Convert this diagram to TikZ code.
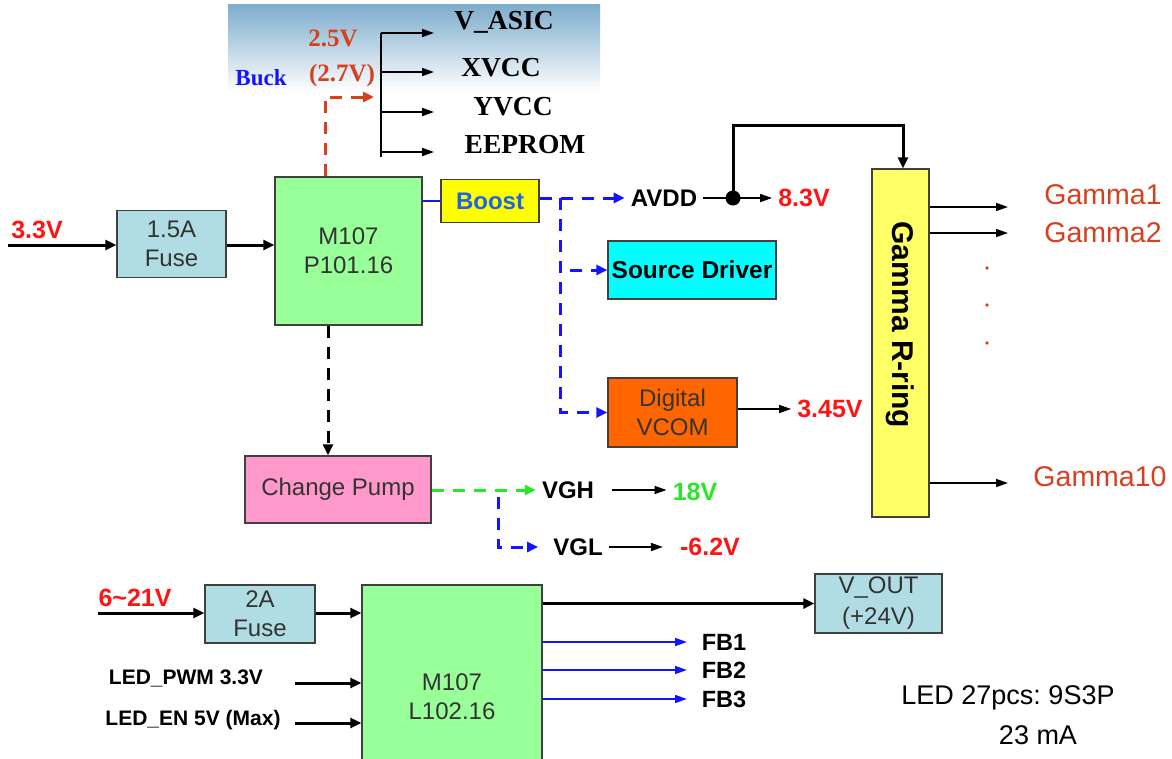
\documentclass[tikz,border=0pt]{standalone}
\usepackage{fontspec}
\setmainfont{Liberation Sans}
\newfontfamily\timesfont{Liberation Serif}
\usetikzlibrary{arrows.meta}

\definecolor{fusecol}{RGB}{176,221,228}
\definecolor{icgreen}{RGB}{153,255,153}
\definecolor{boostyel}{RGB}{255,255,0}
\definecolor{srccyan}{RGB}{0,255,255}
\definecolor{vcomorg}{RGB}{255,102,0}
\definecolor{gammayel}{RGB}{255,255,102}
\definecolor{pumppink}{RGB}{255,153,204}
\definecolor{vred}{RGB}{255,20,20}
\definecolor{gred}{RGB}{214,64,30}
\definecolor{lblblue}{RGB}{20,20,255}
\definecolor{boostblue}{RGB}{30,100,230}
\definecolor{vgreen}{RGB}{40,230,40}
\definecolor{topblue}{RGB}{125,172,205}

\begin{document}
\begin{tikzpicture}[x=1pt,y=-1pt,
  box/.style={draw=black!75, line width=1.3pt, align=center, inner sep=0pt,
    text=black!80, font=\fontsize{24}{29}\selectfont},
  lbl/.style={inner xsep=6pt, inner ysep=0pt, font=\bfseries\fontsize{24}{26}\selectfont},
  volt/.style={inner xsep=6pt, inner ysep=0pt, text=vred, font=\bfseries\fontsize{25}{27}\selectfont},
  rail/.style={inner sep=0pt, font=\timesfont\bfseries\fontsize{27.5}{29}\selectfont},
  gam/.style={inner sep=0pt, text=gred, font=\fontsize{28.5}{30}\selectfont},
  bigarrow/.style={line width=3pt, -{Triangle[length=11pt,width=10pt]}},
  smallarrow/.style={line width=1.6pt, -{Triangle[length=12pt,width=8pt]}},
  dashln/.style={line width=3pt, dash pattern=on 12pt off 9pt, -{Triangle[length=11pt,width=10pt]}}]
\useasboundingbox (0,0) rectangle (1172,758);
\clip (0,0) rectangle (1172,758);
\fill[white] (0,0) rectangle (1172,758);
\shade[top color=topblue, bottom color=white] (228,4) rectangle (600,92);

% blocks
\node[box, fill=fusecol, minimum width=109, minimum height=67] (fuseA) at (171.5,244) {1.5A\\Fuse};
\node[box, fill=icgreen, minimum width=147, minimum height=148] (pmic) at (348.5,251) {M107\\P101.16};
\node[box, fill=boostyel, minimum width=98, minimum height=43, text=boostblue,
  font=\bfseries\fontsize{24}{26}\selectfont] (boost) at (490,201) {Boost};
\node[box, fill=srccyan, minimum width=168, minimum height=58, text=black,
  font=\bfseries\fontsize{24.5}{26}\selectfont] (srcdrv) at (692,270) {Source Driver};
\node[box, fill=vcomorg, minimum width=129, minimum height=69] (vcom) at (672.5,412.5) {Digital\\VCOM};
\node[box, fill=gammayel, minimum width=57, minimum height=348, text=black,
  font=\bfseries\fontsize{30}{32}\selectfont] (gamma) at (900.5,343) {\rotatebox{-90}{Gamma R-ring\hspace*{36pt}}};
\node[box, fill=pumppink, minimum width=186, minimum height=67] (pump) at (338,489.5) {Change Pump};
\node[box, fill=fusecol, minimum width=110, minimum height=58] (fuseB) at (260,614) {2A\\Fuse};
\node[box, fill=icgreen, minimum width=180, minimum height=224] (ledic) at (452,697) {M107\\L102.16};
\node[box, fill=fusecol, minimum width=127, minimum height=59, font=\fontsize{24}{31}\selectfont] (vout) at (878.5,603.5) {V\_OUT\\(+24V)};

% 3.3V input
\node[volt] (in33) at (37,230) {3.3V};
\coordinate (src33) at (8,245);
\draw[bigarrow] (src33) -- (src33 -| fuseA.west);
\draw[bigarrow] (src33 -| fuseA.east) -- (src33 -| pmic.west);

% buck rail
\node[inner sep=0pt, text=lblblue, font=\timesfont\bfseries\fontsize{23}{26}\selectfont] (buck) at (261,78) {Buck};
\node[inner sep=0pt, text=gred, font=\timesfont\bfseries\fontsize{25}{28}\selectfont] (bv1) at (333,38) {2.5V};
\node[inner sep=0pt, text=gred, font=\timesfont\bfseries\fontsize{25}{28}\selectfont] (bv2) at (342,75) {(2.7V)};
\coordinate (bk) at (325,97);
\coordinate (bkend) at (374,97);
\draw[dashln, draw=gred] (bk |- pmic.north) -- (bk) -- (bkend);
\coordinate (busT) at (381,33);
\coordinate (busB) at (381,157);
\draw[line width=1.6pt] (busT) -- (busB);
\foreach \yy/\nm in {33/a,72/b,112/c,152/d}{
  \coordinate (rl\nm) at (434,\yy);
  \draw[smallarrow] (rl\nm -| busT) -- (rl\nm);
}
\node[rail] (vasic) at (504,22) {V\_ASIC};
\node[rail] (xvcc) at (501,68) {XVCC};
\node[rail] (yvcc) at (513,107) {YVCC};
\node[rail] (eeprom) at (525,145) {EEPROM};

% boost outputs
\draw[lblblue, line width=2.5pt] (boost.west -| pmic.east) -- (boost.west);
\node[lbl] (avdd) at (664,198) {AVDD};
\draw[dashln, draw=lblblue] (avdd.west -| boost.east) -- (avdd.west);
\coordinate (split) at (560,198);
\draw[dashln, draw=lblblue] (split) |- (vcom.west);
\draw[dashln, draw=lblblue] ([xshift=10pt]split |- srcdrv.west) -- (srcdrv.west);
\coordinate (jn) at (733,198);
\node[volt] (v83) at (804,198) {8.3V};
\draw[smallarrow] (avdd.east) -- (v83.west);
\fill (jn) circle (7.5pt);
\coordinate (gtop) at (903,125);
\draw[bigarrow] (jn) |- (gtop) -- (gtop |- gamma.north);
\node[volt] (v345) at (830,409) {3.45V};
\draw[smallarrow] (v345.west -| vcom.east) -- (v345.west);

% gamma taps
\foreach \yy/\nm in {207/1,233/2,483/10}{
  \coordinate (go\nm) at (1008,\yy);
  \draw[smallarrow] (go\nm -| gamma.east) -- (go\nm);
}
\node[gam] (gm1) at (1103,195) {Gamma1};
\node[gam] (gm2) at (1103,233) {Gamma2};
\node[gam] (gm10) at (1100,477) {Gamma10};
\foreach \yy in {268,305,343} \fill[gred] (987,\yy) circle (1.8pt);

% charge pump
\coordinate (pd) at (328,0);
\draw[dashln] (pd |- pmic.south) -- (pd |- pump.north);
\node[lbl] (vgh) at (568,490) {VGH};
\draw[dashln, draw=vgreen] (vgh.west -| pump.east) -- (vgh.west);
\node[volt, text=vgreen] (v18) at (695,492) {18V};
\coordinate (a18) at (612,490);
\draw[smallarrow] (a18) -- (a18 -| v18.west);
\coordinate (sp2) at (498,490);
\node[lbl] (vgl) at (578,547) {VGL};
\draw[dashln, draw=lblblue, shorten >=9pt] ([yshift=-7pt]sp2) |- (vgl.west);
\node[volt] (v62) at (710,547) {-6.2V};
\draw[smallarrow, shorten >=11pt] (vgl.east) -- (v62.west);

% LED driver
\node[volt] (in621) at (135,598) {6\textasciitilde 21V};
\coordinate (src621) at (98,613);
\draw[bigarrow] (src621) -- (src621 -| fuseB.west);
\draw[bigarrow] (src621 -| fuseB.east) -- (src621 -| ledic.west);
\node[lbl, font=\bfseries\fontsize{21}{24}\selectfont] (pwm) at (186,678) {LED\_PWM 3.3V};
\node[lbl, font=\bfseries\fontsize{21}{24}\selectfont] (en) at (193,720) {LED\_EN 5V (Max)};
\coordinate (apwm) at (295,683);
\coordinate (aen) at (295,723);
\draw[bigarrow] (apwm) -- (apwm -| ledic.west);
\draw[bigarrow] (aen) -- (aen -| ledic.west);
\draw[bigarrow] (vout.west -| ledic.east) -- (vout.west);
\foreach \yy/\nm in {642/1,670/2,699/3}{
  \coordinate (fb\nm) at (687,\yy);
  \draw[smallarrow, draw=lblblue] (fb\nm -| ledic.east) -- (fb\nm);
  \node[lbl, font=\bfseries\fontsize{23.5}{26}\selectfont] (fbl\nm) at (724,\yy) {FB\nm};
}
\node[inner sep=0pt, font=\fontsize{27}{30}\selectfont] (led1) at (1008,698) {\frenchspacing LED 27pcs: 9S3P};
\node[inner sep=0pt, font=\fontsize{27}{30}\selectfont] (led2) at (1038,735) {23 mA};
\end{tikzpicture}
\end{document}
